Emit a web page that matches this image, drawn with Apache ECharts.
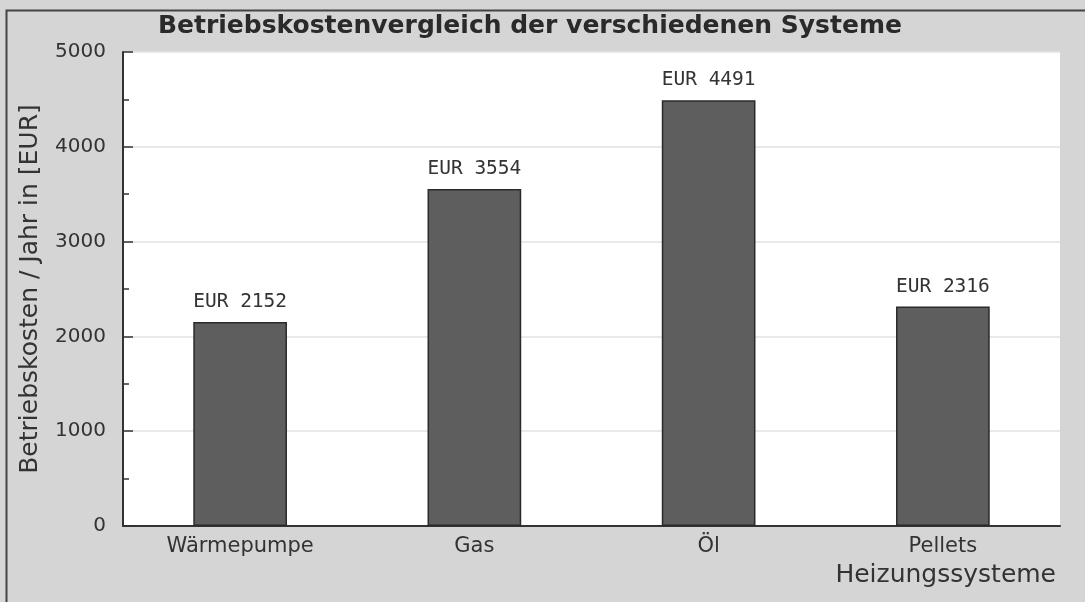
<!DOCTYPE html>
<html>
<head>
<meta charset="utf-8">
<script src="https://cdn.jsdelivr.net/npm/echarts@6/dist/echarts.min.js"></script>
<style>
html,body{margin:0;padding:0;background:#d5d5d5;}
#chart{width:1085px;height:602px;}
</style>
</head>
<body>
<div id="chart"></div>
<script>
const categories = ['Wärmepumpe', 'Gas', 'Öl', 'Pellets'];
const costs = [2152, 3554, 4491, 2316];
const titleText = 'Betriebskostenvergleich der verschiedenen Systeme';
const yName = 'Betriebskosten / Jahr in [EUR]';
const xName = 'Heizungssysteme';

const chart = echarts.init(document.getElementById('chart'));
chart.setOption({
  backgroundColor: '#d5d5d5',
  animation: false,
  graphic: [{
    type: 'rect', left: 4, top: 8, z: -1, silent: true,
    shape: { width: 1120, height: 640 },
    style: { fill: 'none', stroke: '#444', lineWidth: 2 }
  }],
  title: {
    text: titleText,
    left: 153, top: 9,
    textStyle: { fontFamily: 'DejaVu Sans', fontWeight: 'bold', fontSize: 25, color: '#2a2a2a' }
  },
  grid: { left: 123, right: 25, top: 52, bottom: 76, show: true, backgroundColor: '#ffffff', borderWidth: 0 },
  xAxis: {
    type: 'category',
    data: categories,
    name: xName,
    nameLocation: 'end',
    nameGap: -4,
    nameTextStyle: { fontFamily: 'DejaVu Sans', fontSize: 25, color: '#333', align: 'right', verticalAlign: 'top', padding: [37, 0, 0, 0] },
    axisLine: { lineStyle: { color: '#333', width: 2 } },
    axisTick: { inside: true, length: 9, lineStyle: { color: '#333', width: 1.5 } },
    axisLabel: { fontFamily: 'DejaVu Sans', fontSize: 21, color: '#333', margin: 10 }
  },
  yAxis: {
    type: 'value',
    min: 0, max: 5000, interval: 1000,
    name: yName,
    nameLocation: 'middle',
    nameGap: 80,
    nameTextStyle: { fontFamily: 'DejaVu Sans', fontSize: 25, color: '#333' },
    axisLine: { show: true, lineStyle: { color: '#333', width: 2 } },
    axisTick: { show: true, inside: true, length: 10, lineStyle: { color: '#333', width: 1.5 } },
    minorTick: { show: true, splitNumber: 2, length: 6, lineStyle: { color: '#333', width: 1.5 } },
    axisLabel: { fontFamily: 'DejaVu Sans', fontSize: 20, color: '#333', margin: 17, formatter: function (v) { return String(v); } },
    splitLine: { show: true, lineStyle: { color: '#e2e2e2', width: 1.5 } }
  },
  series: [{
    type: 'bar',
    data: costs,
    barWidth: '40%',
    itemStyle: { color: '#5e5e5e', borderColor: '#2a2a2a', borderWidth: 1.5 },
    label: {
      show: true, position: 'top', distance: 10,
      formatter: 'EUR {c}',
      fontFamily: 'DejaVu Sans Mono', fontSize: 19.5, color: '#333'
    }
  }]
});
</script>
</body>
</html>
